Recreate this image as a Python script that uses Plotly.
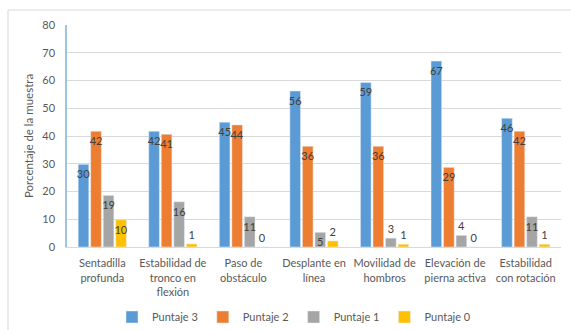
import plotly.graph_objects as go

categories = ["Sentadilla<br>profunda", "Estabilidad de<br>tronco en<br>flexión", "Paso de<br>obstáculo",
              "Desplante en<br>línea", "Movilidad de<br>hombros", "Elevación de<br>pierna activa",
              "Estabilidad<br>con rotación"]
series_names = ["Puntaje 3", "Puntaje 2", "Puntaje 1", "Puntaje 0"]
puntaje3 = [29.8, 41.7, 45.0, 56.2, 59.3, 67.0, 46.4]
puntaje2 = [41.7, 40.6, 44.0, 36.3, 36.3, 28.7, 41.7]
puntaje1 = [18.6, 16.3, 10.9, 5.3, 3.2, 4.2, 10.9]
puntaje0 = [9.8, 1.1, 0.0, 2.2, 1.0, 0.0, 1.0]
colors = ["#5B9BD5", "#ED7D31", "#A5A5A5", "#FFC000"]
y_ticks = [0, 10, 20, 30, 40, 50, 60, 70, 80]

FONT = "Lato"
TXT = "#595959"
LBL = dict(family=FONT, size=11, color="#404040")

fig = go.Figure()
for name, vals, col in zip(series_names, [puntaje3, puntaje2, puntaje1, puntaje0], colors):
    pos = ["inside" if v >= 5 else "outside" for v in vals]
    fig.add_trace(go.Bar(
        x=categories, y=vals, name=name, marker_color=col,
        texttemplate="%{y:.0f}", textposition=pos, insidetextanchor="end", textangle=0,
        textfont=LBL, outsidetextfont=LBL, insidetextfont=LBL,
        cliponaxis=False,
    ))

W, H = 571, 330
L, R, T, B = 67, 10, 25, 83
pw = W - L - R
ph = H - T - B

def px_x(x):
    return (x - L) / pw

def px_y(y):
    return (H - B - y) / ph

fig.update_layout(
    width=W, height=H, margin=dict(l=L, r=R, t=T, b=B, autoexpand=False),
    paper_bgcolor="white", plot_bgcolor="white",
    barmode="group", bargap=0.29, bargroupgap=0.15,
    font=dict(family=FONT, size=11, color=TXT),
    uniformtext=dict(minsize=11, mode="show"),
    showlegend=True,
    legend=dict(orientation="h", x=px_x(294), xanchor="center", y=px_y(317), yanchor="middle",
                font=dict(family=FONT, size=11, color=TXT), bgcolor="rgba(0,0,0,0)",
                borderwidth=0, itemwidth=30),
    shapes=[dict(type="rect", xref="paper", yref="paper",
                 x0=px_x(8), x1=px_x(600), y0=px_y(360), y1=px_y(10),
                 line=dict(color="#D9D9D9", width=1), fillcolor="rgba(0,0,0,0)", layer="below")],
)
fig.update_xaxes(showgrid=False, showline=True, linecolor="#D9D9D9", linewidth=1,
                 ticks="", tickfont=dict(family=FONT, size=11, color=TXT), ticklabelstandoff=6)
fig.update_yaxes(range=[0, 80], tickvals=y_ticks, showgrid=True, gridcolor="#D9D9D9", gridwidth=1,
                 zeroline=False, showline=True, linecolor="#9DC3E6", linewidth=1.5,
                 ticks="", tickfont=dict(family=FONT, size=11, color=TXT), ticklabelstandoff=8,
                 title=dict(text="Porcentaje de la muestra", font=dict(family=FONT, size=11.5, color=TXT), standoff=6))

fig.write_html("out.html")
